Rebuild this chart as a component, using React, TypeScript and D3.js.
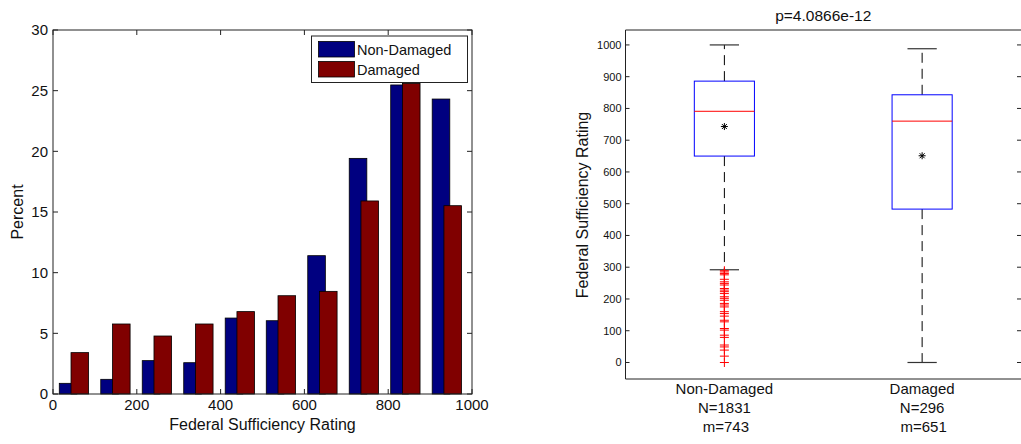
import React from "react";
import * as d3 from "d3";

// histogram (left)
const binCenters = [49, 148, 247, 346, 445, 543, 642, 741, 840, 939];
const nonDamagedPct = [0.88, 1.21, 2.75, 2.58, 6.26, 6.04, 11.4, 19.42, 25.47, 24.31];
const damagedPct = [3.41, 5.77, 4.78, 5.77, 6.79, 8.1, 8.46, 15.91, 25.6, 15.52];
const xTicksLeft = [0, 200, 400, 600, 800, 1000];
const yTicksLeft = [0, 5, 10, 15, 20, 25, 30];
const legendLabels = ["Non-Damaged", "Damaged"];

// boxplot (right)
const groups = ["Non-Damaged", "Damaged"];
const groupN = [1831, 296];
const groupMean = [743, 651];
const q1 = [650, 483];
const median = [791, 760];
const q3 = [886, 843];
const whiskerLow = [292, 0];
const whiskerHigh = [1000, 988];
const outliersNonDamaged = [
  289, 285, 280, 276, 262, 254, 249, 244, 233, 228, 223, 217, 207, 202, 196, 186,
  181, 175, 160, 154, 146, 133, 128, 107, 102, 86, 79, 55, 49, 39, 20, 0,
];
const yTicksRight = d3.range(0, 1001, 100);
const pTitle = "p=4.0866e-12";

const FONT = "'Liberation Sans', Arial, Helvetica, sans-serif";
const BLUE = "#000080";
const RED = "#800000";

const App = () => {
  // left panel geometry
  const L = { left: 53, right: 472, top: 30, bottom: 394 };
  const x = d3.scaleLinear().domain([0, 1000]).range([L.left, L.right]);
  const y = d3.scaleLinear().domain([0, 30]).range([L.bottom, L.top]);
  const barW = 42;

  // right panel geometry
  const R = { left: 625.5, right: 1021, top: 30, bottom: 379 };
  const xb = d3.scaleLinear().domain([0.5, 2.5]).range([R.left, R.right]);
  const yb = d3.scaleLinear().domain([-52, 1047]).range([R.bottom, R.top]);
  const boxHalf = 0.152;
  const capHalf = 0.074;

  const tick = 5;

  return (
    <svg
      width={1021}
      height={444}
      style={{ position: "absolute", left: 0, top: 0, background: "#fff" }}
      fontFamily={FONT}
    >
      {/* ---------- left: histogram ---------- */}
      <g>
        {binCenters.map((c, i) => (
          <rect
            key={"b" + i}
            x={x(c - 34)}
            y={y(nonDamagedPct[i])}
            width={x(barW) - x(0)}
            height={y(0) - y(nonDamagedPct[i])}
            fill={BLUE}
            stroke="#000"
            strokeWidth={0.8}
          />
        ))}
        {binCenters.map((c, i) => (
          <rect
            key={"r" + i}
            x={x(c - 6)}
            y={y(damagedPct[i])}
            width={x(barW) - x(0)}
            height={y(0) - y(damagedPct[i])}
            fill={RED}
            stroke="#000"
            strokeWidth={0.8}
          />
        ))}
        <rect
          x={L.left}
          y={L.top}
          width={L.right - L.left}
          height={L.bottom - L.top}
          fill="none"
          stroke="#222"
          strokeWidth={1}
        />
        {xTicksLeft.map((t) => (
          <g key={"xt" + t}>
            <line x1={x(t)} x2={x(t)} y1={L.bottom} y2={L.bottom - tick} stroke="#222" />
            <line x1={x(t)} x2={x(t)} y1={L.top} y2={L.top + tick} stroke="#222" />
            <text x={x(t)} y={410} fontSize={15} textAnchor="middle" fill="#111">
              {t}
            </text>
          </g>
        ))}
        {yTicksLeft.map((t) => (
          <g key={"yt" + t}>
            <line x1={L.left} x2={L.left + tick} y1={y(t)} y2={y(t)} stroke="#222" />
            <line x1={L.right} x2={L.right - tick} y1={y(t)} y2={y(t)} stroke="#222" />
            <text
              x={48}
              y={y(t)}
              dy="0.36em"
              fontSize={15}
              textAnchor="end"
              fill="#111"
            >
              {t}
            </text>
          </g>
        ))}
        <text x={(L.left + L.right) / 2} y={430} fontSize={16} textAnchor="middle" fill="#111">
          Federal Sufficiency Rating
        </text>
        <text
          transform={`translate(23,${(L.top + L.bottom) / 2}) rotate(-90)`}
          fontSize={16}
          textAnchor="middle"
          fill="#111"
        >
          Percent
        </text>

        {/* legend */}
        <rect x={311.5} y={36} width={156} height={46.5} fill="#fff" stroke="#222" />
        {legendLabels.map((lab, i) => (
          <g key={"lg" + i}>
            <rect
              x={318.5}
              y={41.5 + i * 20}
              width={36}
              height={15.5}
              fill={i === 0 ? BLUE : RED}
              stroke="#000"
              strokeWidth={0.8}
            />
            <text x={357} y={55 + i * 20} fontSize={14.5} fill="#111">
              {lab}
            </text>
          </g>
        ))}
      </g>

      {/* ---------- right: boxplot ---------- */}
      <g>
        <line x1={R.left} x2={R.right} y1={R.top} y2={R.top} stroke="#222" />
        <line x1={R.left} x2={R.right} y1={R.bottom} y2={R.bottom} stroke="#222" />
        <line x1={R.left} x2={R.left} y1={R.top} y2={R.bottom} stroke="#222" />
        {yTicksRight.map((t) => (
          <g key={"ytr" + t}>
            <line x1={R.left} x2={R.left + 4} y1={yb(t)} y2={yb(t)} stroke="#222" />
            <line x1={R.right - 4} x2={R.right} y1={yb(t)} y2={yb(t)} stroke="#222" />
            <text
              x={621.5}
              y={yb(t)}
              dy="0.36em"
              fontSize={11}
              textAnchor="end"
              fill="#111"
            >
              {t}
            </text>
          </g>
        ))}
        <text x={(R.left + R.right) / 2} y={21} fontSize={15.5} textAnchor="middle" fill="#111">
          {pTitle}
        </text>
        <text
          transform={`translate(588,${(R.top + R.bottom) / 2 + 0.5}) rotate(-90)`}
          fontSize={16}
          textAnchor="middle"
          fill="#111"
        >
          Federal Sufficiency Rating
        </text>

        {groups.map((g, i) => {
          const cx = xb(i + 1);
          return (
            <g key={"bx" + i}>
              <line
                x1={cx}
                x2={cx}
                y1={yb(q3[i])}
                y2={yb(whiskerHigh[i])}
                stroke="#000"
                strokeDasharray="10,6"
              />
              <line
                x1={cx}
                x2={cx}
                y1={yb(q1[i])}
                y2={yb(whiskerLow[i])}
                stroke="#000"
                strokeDasharray="10,6"
              />
              <line
                x1={xb(i + 1 - capHalf)}
                x2={xb(i + 1 + capHalf)}
                y1={yb(whiskerHigh[i])}
                y2={yb(whiskerHigh[i])}
                stroke="#333"
                strokeWidth={1.2}
              />
              <line
                x1={xb(i + 1 - capHalf)}
                x2={xb(i + 1 + capHalf)}
                y1={yb(whiskerLow[i])}
                y2={yb(whiskerLow[i])}
                stroke="#333"
                strokeWidth={1.2}
              />
              <rect
                x={xb(i + 1 - boxHalf)}
                y={yb(q3[i])}
                width={xb(i + 1 + boxHalf) - xb(i + 1 - boxHalf)}
                height={yb(q1[i]) - yb(q3[i])}
                fill="none"
                stroke="#0000ff"
                strokeWidth={1}
              />
              <line
                x1={xb(i + 1 - boxHalf)}
                x2={xb(i + 1 + boxHalf)}
                y1={yb(median[i])}
                y2={yb(median[i])}
                stroke="#ff0000"
                strokeWidth={1}
              />
              {/* mean asterisk */}
              <g transform={`translate(${cx},${yb(groupMean[i])})`} stroke="#000" strokeWidth={1}>
                <line x1={-3.5} x2={3.5} y1={0} y2={0} />
                <line x1={0} x2={0} y1={-3.5} y2={3.5} />
                <line x1={-2.5} x2={2.5} y1={-2.5} y2={2.5} />
                <line x1={-2.5} x2={2.5} y1={2.5} y2={-2.5} />
              </g>
              <text x={cx} y={394} fontSize={15} textAnchor="middle" fill="#111">
                {g}
              </text>
              <text x={cx} y={413} fontSize={15} textAnchor="middle" fill="#111">
                {"N=" + groupN[i]}
              </text>
              <text x={cx + 1.5} y={432} fontSize={15} textAnchor="middle" fill="#111">
                {"m=" + groupMean[i]}
              </text>
            </g>
          );
        })}

        {outliersNonDamaged.map((v, j) => (
          <g key={"o" + j} transform={`translate(${xb(1)},${yb(v)})`} stroke="#ff0000" strokeWidth={1}>
            <line x1={-4.5} x2={4.5} y1={0} y2={0} />
            <line x1={0} x2={0} y1={-4.5} y2={4.5} />
          </g>
        ))}
      </g>
    </svg>
  );
};

export default App;
